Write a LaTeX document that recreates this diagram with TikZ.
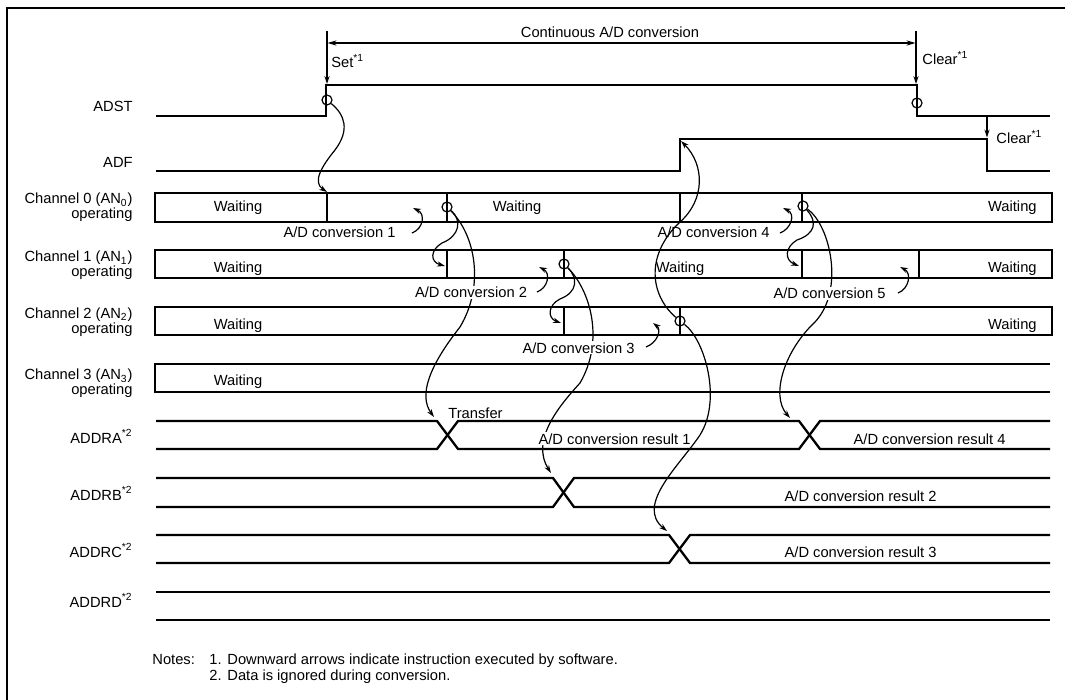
\documentclass[tikz,border=0pt]{standalone}
\usepackage{fontspec}
\setmainfont{Liberation Sans}
\usetikzlibrary{arrows.meta}
\begin{document}
\begin{tikzpicture}[x=0.5pt,y=-0.5pt,
  sig/.style={line width=1.15pt, line join=miter},
  thinl/.style={line width=0.6pt},
  arr/.style={thinl,-{Stealth[length=4pt,width=2.6pt]}},
  txt/.style={inner sep=0pt, font=\fontsize{7.35}{7.5}\selectfont},
  ntxt/.style={txt, anchor=base west},
  lbl/.style={txt, anchor=base east},
  wt/.style={txt, anchor=base},
  conv/.style={txt, fill=white, inner sep=0.6pt, anchor=base},
  res/.style={txt, fill=white, inner sep=0.6pt, anchor=base west},
  ring/.style={circle, draw, thinl, minimum size=5pt, inner sep=0pt},
]
\useasboundingbox (0,0) rectangle (1065,700);
% frame
\draw[line width=1pt] (7,720) -- (7,8.5) -- (1080,8.5);

% ---- named points ----
\coordinate (setTop) at (327,31);  \coordinate (setTip) at (327,84);
\coordinate (clrTop) at (916,31);  \coordinate (clrTip) at (916,84);
\coordinate (dimL) at (327.5,43);  \coordinate (dimR) at (915.5,43);
\coordinate (clr2Top) at (987,117); \coordinate (clr2Tip) at (987,137.5);
\coordinate (ch0div) at (327,192);
\coordinate (ch1divA) at (445,266);
\coordinate (ch2divA) at (561,323);
\coordinate (ch1divB) at (799,266);
\coordinate (adfTip) at (681,141);
\coordinate (xA1) at (434,417);
\coordinate (xB) at (551,473);
\coordinate (xC) at (667,531);
\coordinate (xA2) at (790,418);
\coordinate (a1s) at (412,233); \coordinate (a1t) at (413,208);
\coordinate (a2s) at (537,292); \coordinate (a2t) at (539,267);
\coordinate (a3s) at (646,347); \coordinate (a3t) at (653,323);
\coordinate (a4s) at (780,233); \coordinate (a4t) at (783,208);
\coordinate (a5s) at (898,293); \coordinate (a5t) at (900,267);

% ---- circles ----
\node[ring] (s1) at (327,100) {};
\node[ring] (s2) at (917,103) {};
\node[ring] (c0a) at (447,207) {};
\node[ring] (c0b) at (803,206) {};
\node[ring] (c1a) at (564,264) {};
\node[ring] (c2a) at (680,321) {};

% ---- curved connectors ----
\draw[arr] (s1) .. controls (345,115) and (350,130) .. (335,150)
                .. controls (322,166) and (312,182) .. (ch0div);
\draw[arr] (c0a) .. controls (462,220) and (460,236) .. (442,243)
                 .. controls (430,250) and (430,262) .. (ch1divA);
\draw[arr] (c0a) .. controls (475,235) and (485,285) .. (460,327)
                 .. controls (430,365) and (418,395) .. (xA1);
\draw[arr] (c1a) .. controls (578,278) and (578,292) .. (560,299)
                 .. controls (548,305) and (547,318) .. (ch2divA);
\draw[arr] (c1a) .. controls (590,290) and (605,340) .. (580,383)
                 .. controls (560,405) and (530,440) .. (xB);
\draw[arr] (c2a) .. controls (650,295) and (645,255) .. (680,222)
                 .. controls (705,200) and (705,165) .. (adfTip);
\draw[arr] (c2a) .. controls (705,340) and (722,400) .. (700,435)
                 .. controls (680,465) and (635,505) .. (xC);
\draw[arr] (c0b) .. controls (818,222) and (815,234) .. (797,240)
                 .. controls (785,247) and (784,260) .. (ch1divB);
\draw[arr] (c0b) .. controls (830,225) and (845,290) .. (815,322)
                 .. controls (785,350) and (770,395) .. (xA2);
% short label arrows
\draw[arr] (a1s) .. controls (423,229) and (426,214) .. (a1t);
\draw[arr] (a2s) .. controls (548,288) and (551,273) .. (a2t);
\draw[arr] (a3s) .. controls (657,343) and (662,330) .. (a3t);
\draw[arr] (a4s) .. controls (791,229) and (796,214) .. (a4t);
\draw[arr] (a5s) .. controls (909,289) and (912,273) .. (a5t);

% ---- software arrows and dimension ----
\draw[arr] (setTop) -- (setTip);
\draw[arr] (clrTop) -- (clrTip);
\draw[arr] (clr2Top) -- (clr2Tip);
\draw[thinl,{Stealth[length=4.5pt,width=2.6pt]}-{Stealth[length=4.5pt,width=2.6pt]}] (dimL) -- (dimR);

% ---- text labels ----
\node[txt, anchor=base] (cont) at (610,38) {Continuous A/D conversion};
\node[txt, anchor=base west] (set) at (331,68) {Set\textsuperscript{*1}};
\node[txt, anchor=base west] (clr1) at (922,65) {Clear\textsuperscript{*1}};
\node[txt, anchor=base west] (clr2) at (996,144) {Clear\textsuperscript{*1}};

\node[lbl] (nADST) at (133,112) {ADST};
\node[lbl] (nADF) at (133,168) {ADF};
\node[txt, align=right, anchor=east] (nCh0) at (133,207.5) {Channel 0 (AN\textsubscript{0})\\operating};
\node[txt, align=right, anchor=east] (nCh1) at (133,265.5) {Channel 1 (AN\textsubscript{1})\\operating};
\node[txt, align=right, anchor=east] (nCh2) at (133,322) {Channel 2 (AN\textsubscript{2})\\operating};
\node[txt, align=right, anchor=east] (nCh3) at (133,383.5) {Channel 3 (AN\textsubscript{3})\\operating};
\node[lbl] (nA) at (133,443) {ADDRA\textsuperscript{*2}};
\node[lbl] (nB) at (133,500) {ADDRB\textsuperscript{*2}};
\node[lbl] (nC) at (133,557) {ADDRC\textsuperscript{*2}};
\node[lbl] (nD) at (133,607) {ADDRD\textsuperscript{*2}};

\node[wt] (w00) at (238,212) {Waiting};
\node[wt] (w01) at (517,212) {Waiting};
\node[txt, anchor=base east] (w02) at (1037,212) {Waiting};
\node[wt] (w10) at (238,272) {Waiting};
\node[wt] (w11) at (680,272) {Waiting};
\node[txt, anchor=base east] (w12) at (1037,272) {Waiting};
\node[wt] (w20) at (238,329) {Waiting};
\node[txt, anchor=base east] (w22) at (1037,329) {Waiting};
\node[wt] (w30) at (238,385) {Waiting};

\node[conv] (l1) at (339.5,238) {A/D conversion 1};
\node[conv] (l2) at (471,298) {A/D conversion 2};
\node[conv] (l3) at (578.5,353) {A/D conversion 3};
\node[txt, anchor=base] (l4) at (713.5,238) {A/D conversion 4};
\node[conv] (l5) at (829.5,299) {A/D conversion 5};

\node[txt, anchor=base west] (tr) at (448,418) {Transfer};
\node[res] (r1) at (537,444) {A/D conversion result 1};
\node[res] (r4) at (852,444) {A/D conversion result 4};
\node[res] (r2) at (783,501) {A/D conversion result 2};
\node[res] (r3) at (783,557) {A/D conversion result 3};

\node[ntxt] (notes) at (152,664) {Notes:};
\node[ntxt] (n1) at (209,664) {1.};
\node[ntxt] (n1t) at (227,664) {Downward arrows indicate instruction executed by software.};
\node[ntxt] (n2) at (209,680) {2.};
\node[ntxt] (n2t) at (227,680) {Data is ignored during conversion.};

% ---- signals ----
\draw[sig] (156,116) -- (326,116) -- (326,85) -- (917,85) -- (917,116) -- (1050,116);
\draw[sig] (156,171) -- (680,171) -- (680,139) -- (987,139) -- (987,171) -- (1050,171);
% channel 0
\draw[sig] (155,193) rectangle (1052,222);
\foreach \x in {327,447,680,802} \draw[sig] (\x,193) -- (\x,222);
% channel 1
\draw[sig] (155,250) rectangle (1052,278);
\foreach \x in {447,564,802,919} \draw[sig] (\x,250) -- (\x,278);
% channel 2
\draw[sig] (155,307) rectangle (1052,335);
\foreach \x in {564,680} \draw[sig] (\x,307) -- (\x,335);
% channel 3
\draw[sig] (1050,364) -- (155,364) -- (155,392) -- (1050,392);
% ADDRA
\draw[sig] (156,421) -- (437,421) -- (458,449) -- (799,449) -- (820,421) -- (1050,421);
\draw[sig] (156,449) -- (437,449) -- (458,421) -- (799,421) -- (820,449) -- (1050,449);
% ADDRB
\draw[sig] (156,478) -- (553,478) -- (574,507) -- (1050,507);
\draw[sig] (156,507) -- (553,507) -- (574,478) -- (1050,478);
% ADDRC
\draw[sig] (156,535) -- (669,535) -- (690,563) -- (1050,563);
\draw[sig] (156,563) -- (669,563) -- (690,535) -- (1050,535);
% ADDRD
\draw[sig] (156,592) -- (1050,592);
\draw[sig] (156,620) -- (1050,620);
\end{tikzpicture}
\end{document}
